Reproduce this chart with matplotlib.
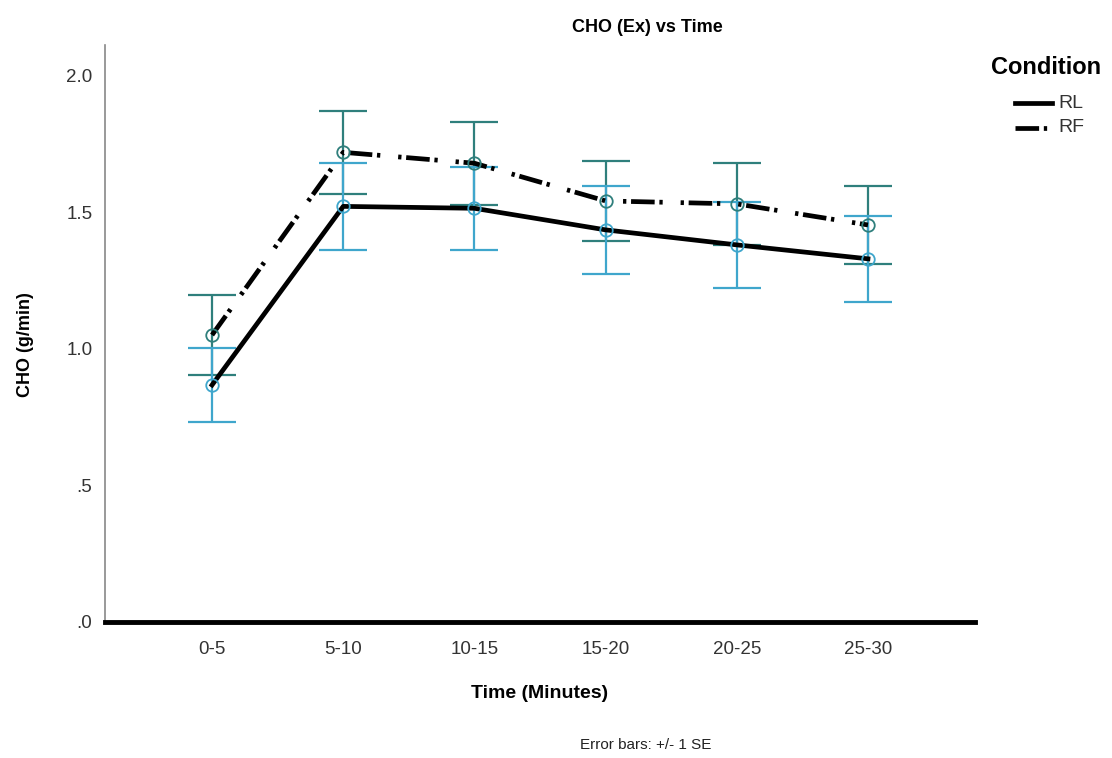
import matplotlib
matplotlib.use("Agg")
import matplotlib.pyplot as plt
from matplotlib.lines import Line2D

categories = ["0-5", "5-10", "10-15", "15-20", "20-25", "25-30"]
rl_mean = [0.868, 1.522, 1.515, 1.436, 1.381, 1.330]
rl_se = [0.134, 0.158, 0.152, 0.161, 0.157, 0.158]
rf_mean = [1.051, 1.720, 1.680, 1.542, 1.531, 1.454]
rf_se = [0.145, 0.153, 0.152, 0.146, 0.150, 0.143]
yticks = [0.0, 0.5, 1.0, 1.5, 2.0]
yticklabels = [".0", ".5", "1.0", "1.5", "2.0"]
series_names = ["RL", "RF"]

plt.rcParams['font.family'] = ['Liberation Sans', 'DejaVu Sans']

W, H = 1112, 758
fig = plt.figure(figsize=(W/100, H/100), dpi=100)
ax = fig.add_axes([105/W, 1-622/H, 870/W, 577/H])

x = list(range(len(categories)))
dark = "#2f7f7c"
light = "#3fa6cc"
lw = 3.4
dashdot = (0, (5.0, 1.0, 0.7, 3.8, 0.7, 1.0))

ax.errorbar(x, rf_mean, yerr=rf_se, fmt='none', ecolor=dark, elinewidth=1.6,
            capsize=17, capthick=1.6, zorder=2)
ax.errorbar(x, rl_mean, yerr=rl_se, fmt='none', ecolor=light, elinewidth=1.6,
            capsize=17, capthick=1.6, zorder=2)

ax.plot(x, rl_mean, color='black', lw=lw, ls='-', zorder=3)
ax.plot(x, rf_mean, color='black', lw=lw, ls=dashdot, zorder=3)
ax.plot(x, rf_mean, ls='none', marker='o', ms=9, mfc='none', mec=dark, mew=1.3, zorder=4)
ax.plot(x, rl_mean, ls='none', marker='o', ms=9, mfc='none', mec=light, mew=1.3, zorder=4)

ax.set_xlim(-0.816, 5.816)
ax.set_ylim(0, 2.113)
ax.set_xticks(x)
ax.set_xticklabels(categories, fontsize=13.5, color='#333333')
ax.set_yticks(yticks)
ax.set_yticklabels(yticklabels, fontsize=13.5, color='#333333')
ax.tick_params(length=0, pad=9)
ax.tick_params(axis='x', pad=14)

for s in ['top', 'right']:
    ax.spines[s].set_visible(False)
ax.spines['left'].set_color('#888888')
ax.spines['left'].set_linewidth(1.2)
ax.spines['bottom'].set_color('black')
ax.spines['bottom'].set_linewidth(3.5)

fig.text(647/W, 1-28/H, "CHO (Ex) vs Time", ha='center', va='center',
         fontsize=13, fontweight='bold')
fig.text(540/W, 1-693/H, "Time (Minutes)", ha='center', va='center',
         fontsize=14, fontweight='bold')
fig.text(25/W, 1-345/H, "CHO (g/min)", ha='center', va='center',
         rotation=90, fontsize=13, fontweight='bold')
fig.text(646/W, 1-745/H, "Error bars: +/- 1 SE", ha='center', va='center',
         fontsize=11, color='#222222')

# Legend (drawn in figure coordinates)
fig.text(991/W, 1-68/H, "Condition", ha='left', va='center',
         fontsize=17, fontweight='bold')
styles = ['-', dashdot]
for i, (name, st) in enumerate(zip(series_names, styles)):
    yy = 1 - (103 + 25*i)/H
    fig.add_artist(Line2D([1015/W, 1052/W], [yy, yy], color='black', lw=lw,
                          ls=st, transform=fig.transFigure))
    fig.text(1058/W, yy, name, ha='left', va='center', fontsize=14,
             color='#333333')

fig.savefig("out.png", dpi=100)
